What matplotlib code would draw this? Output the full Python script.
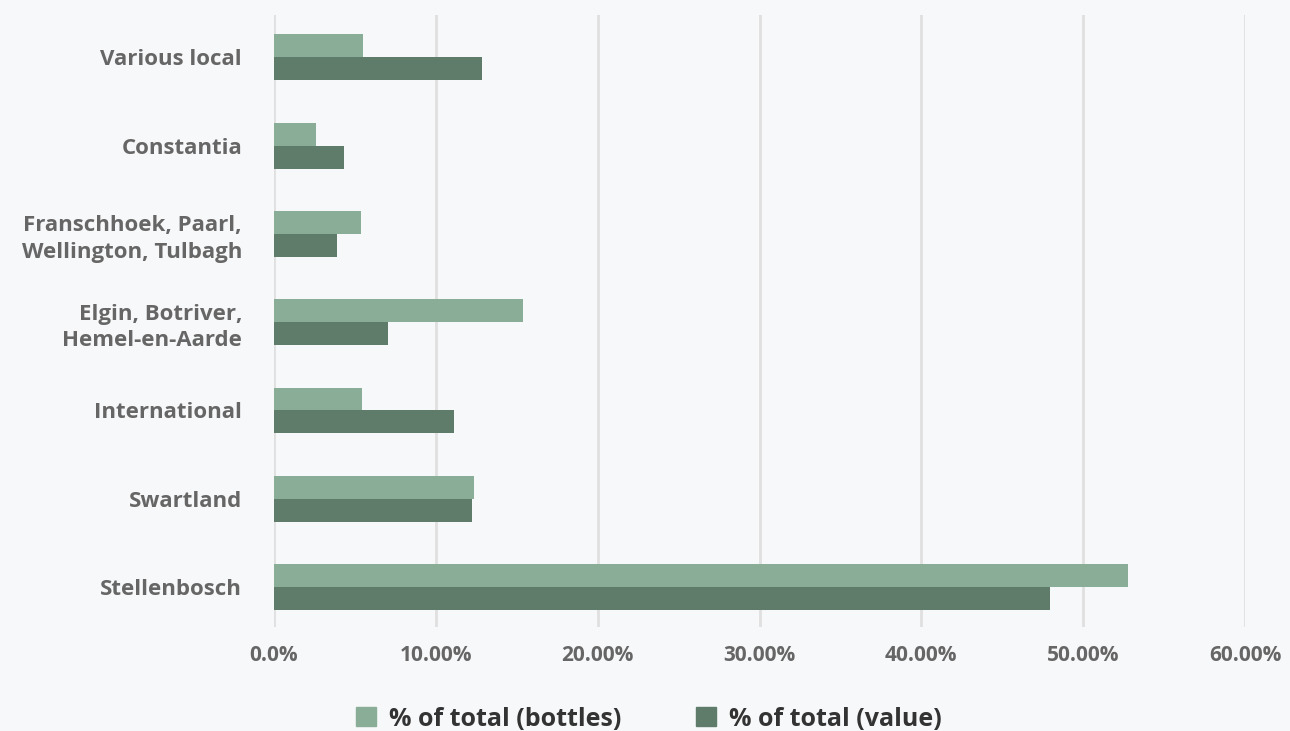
import numpy as np
import matplotlib.pyplot as plt
from matplotlib.patches import Patch

plt.rcParams['font.family'] = ['Open Sans', 'DejaVu Sans']

# regions, bottom to top
regions = ['Stellenbosch', 'Swartland', 'International',
           'Elgin, Botriver,\nHemel-en-Aarde',
           'Franschhoek, Paarl,\nWellington, Tulbagh',
           'Constantia', 'Various local']
bottles = [52.8, 12.35, 5.45, 15.4, 5.4, 2.6, 5.5]
value = [47.95, 12.25, 11.1, 7.05, 3.9, 4.3, 12.85]

xticks = [0, 10, 20, 30, 40, 50, 60]
xtick_labels = ['0.0%', '10.00%', '20.00%', '30.00%', '40.00%', '50.00%', '60.00%']

bg = '#f7f8fa'
light = '#8aad98'
dark = '#5f7b69'

fig = plt.figure(figsize=(12.9, 7.31), dpi=100, facecolor=bg)
ax = fig.add_axes([274 / 1290, 1 - 627 / 731, (1245 - 274) / 1290, (627 - 15) / 731])
ax.set_facecolor(bg)

y = np.arange(len(regions))
h = 0.26
ax.barh(y + h / 2, bottles, height=h, color=light, zorder=3)
ax.barh(y - h / 2, value, height=h, color=dark, zorder=3)

ax.set_xlim(0, 60)
ax.set_ylim(-0.453, 6.48)
ax.set_xticks(xticks)
ax.set_xticklabels(xtick_labels)
ax.set_yticks(y)
ax.set_yticklabels(regions)
ax.grid(axis='x', color='#e0e0e0', linewidth=2, zorder=0)
for s in ax.spines.values():
    s.set_visible(False)
ax.tick_params(axis='y', length=0, pad=23, labelsize=16, labelcolor='#666666')
ax.tick_params(axis='x', length=0, pad=13, labelsize=15, labelcolor='#666666')
for t in ax.get_yticklabels() + ax.get_xticklabels():
    t.set_fontweight('bold')
for t in ax.get_yticklabels():
    t.set_linespacing(1.35)

handles = [Patch(color=light, label='% of total (bottles)'),
           Patch(color=dark, label='% of total (value)')]
fig.legend(handles=handles, loc='center', bbox_to_anchor=(0.503, 1 - 719 / 731),
           ncol=2, frameon=False, prop={'size': 18, 'weight': 'bold'},
           labelcolor='#333333', handlelength=0.8, handleheight=0.8,
           handletextpad=0.5, columnspacing=3.0)

fig.savefig('out.png', dpi=100, facecolor=bg)
